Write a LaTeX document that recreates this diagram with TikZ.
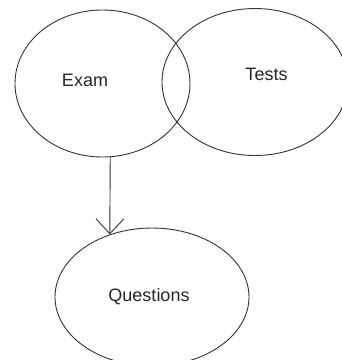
\documentclass[tikz,border=0pt]{standalone}
\usepackage{fontspec}
\setmainfont{Liberation Sans}
\usepackage{tikz}
\usetikzlibrary{shapes.geometric,arrows.meta}

\begin{document}
\begin{tikzpicture} [x=1pt, y=-1pt, line width=0.9pt, draw=black!80,
                    every label/.style={font=\fontsize{18}{22}\selectfont,text=black!85,text height=13pt,text depth=0pt,inner sep=0pt},
                    main node/.style={ellipse,draw,inner sep=0pt}]
    \useasboundingbox (0,0) rectangle (342,360);
    \node[main node, minimum width=175pt, minimum height=147pt,
          label={[xshift=-17.5pt,yshift=3.5pt]center:Exam}] (1) at (102.5,83.5) {};
    \node[main node, minimum width=186pt, minimum height=147pt,
          label={[xshift=11.5pt,yshift=8pt]center:Tests}] (2) at (255,82) {};
    \node[main node, minimum width=194pt, minimum height=138pt,
          label={[xshift=-3pt,yshift=2pt]center:Questions}] (3) at (152,297) {};

    \draw[-{Straight Barb[length=15pt,width=28pt]}] (1.276) -- (3.124);
\end{tikzpicture}
\end{document}
